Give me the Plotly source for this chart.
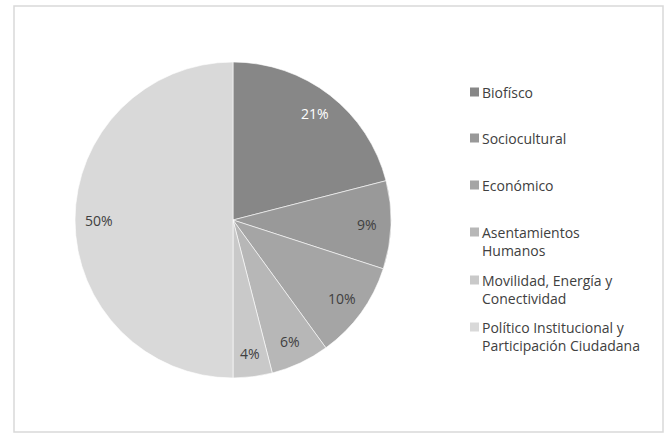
import math
import plotly.graph_objects as go

categories = ["Biofísco", "Sociocultural", "Económico", "Asentamientos Humanos",
              "Movilidad, Energía y Conectividad", "Político Institucional y Participación Ciudadana"]
legend_labels = ["Biofísco", "Sociocultural", "Económico", "Asentamientos<br>Humanos",
                 "Movilidad, Energía y<br>Conectividad", "Político Institucional y<br>Participación Ciudadana"]
values = [21, 9, 10, 6, 4, 50]
colors = ["#878787", "#999999", "#a5a5a5", "#b7b7b7", "#c9c9c9", "#d9d9d9"]
text_colors = ["#ffffff", "#404040", "#404040", "#404040", "#404040", "#404040"]

W, H = 667, 434
cx, cy, R = 233, 220, 158
FONT = "Open Sans"

fig = go.Figure(go.Pie(
    labels=categories, values=values, sort=False, direction="clockwise", rotation=0,
    marker=dict(colors=colors, line=dict(color="#ffffff", width=0.6)),
    textinfo="none", hoverinfo="label+percent", showlegend=False,
    domain=dict(x=[(cx - R) / W, (cx + R) / W], y=[(H - cy - R) / H, (H - cy + R) / H]),
))

annotations = []
shapes = []
total = sum(values)
cum = 0
for v, tc in zip(values, text_colors):
    mid = (cum + v / 2) / total * 2 * math.pi
    cum += v
    r = 0.85 * R
    px = cx + r * math.sin(mid)
    py = cy - r * math.cos(mid)
    annotations.append(dict(
        x=px / W, y=(H - py) / H, xref="paper", yref="paper", showarrow=False,
        text=f"{round(v / total * 100)}%", font=dict(family=FONT, size=14, color=tc),
        xanchor="center", yanchor="middle"))

# legend (drawn manually to match spacing)
item_y = [92, 138, 185, 232, 280, 327]
for lab, col, yy in zip(legend_labels, colors, item_y):
    shapes.append(dict(type="rect", xref="paper", yref="paper",
                       x0=470 / W, x1=479 / W, y0=(H - yy - 4.5) / H, y1=(H - yy + 4.5) / H,
                       fillcolor=col, line=dict(width=0)))
    annotations.append(dict(
        x=480 / W, y=(H - yy + 11) / H, xref="paper", yref="paper", showarrow=False,
        text=lab, align="left", xanchor="left", yanchor="top",
        font=dict(family=FONT, size=14, color="#404040")))

# chart frame
shapes.append(dict(type="rect", xref="paper", yref="paper",
                   x0=14 / W, x1=663 / W, y0=(H - 432) / H, y1=(H - 6) / H,
                   line=dict(color="#d9d9d9", width=1.5), fillcolor="rgba(0,0,0,0)"))

fig.update_layout(
    width=W, height=H, margin=dict(l=0, r=0, t=0, b=0),
    paper_bgcolor="#ffffff", plot_bgcolor="#ffffff",
    annotations=annotations, shapes=shapes,
    font=dict(family=FONT, size=14, color="#404040"),
)
fig.write_html("out.html")
